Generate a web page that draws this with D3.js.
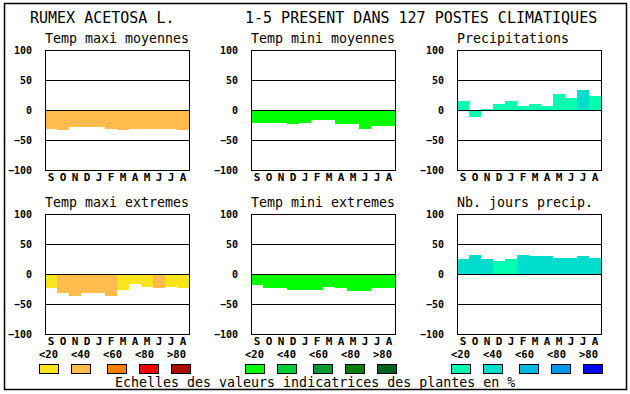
<!DOCTYPE html>
<html>
<head>
<meta charset="utf-8">
<script src="https://cdn.jsdelivr.net/npm/d3@7"></script>
<style>
  body { margin: 0; background: #fff; }
  svg { display: block; }
  text { font-family: "DejaVu Sans Mono", monospace; fill: #000; }
</style>
</head>
<body>
<svg id="chart"></svg>
<script>
"use strict";

// data
const months = ["S", "O", "N", "D", "J", "F", "M", "A", "M", "J", "J", "A"];
const yTicks = [100, 50, 0, -50, -100];
const classLabels = ["<20", "<40", "<60", "<80", ">80"];

const titles = [
  "Temp maxi moyennes", "Temp mini moyennes", "Precipitations",
  "Temp maxi extremes", "Temp mini extremes", "Nb. jours precip."
];

const maxiMoy = [-31, -34, -28, -28, -28, -31, -34, -31, -31, -31, -31, -33];
const miniMoy = [-22, -22, -22, -24, -21, -17, -17, -24, -24, -31, -27, -26];
const precip = [15, -12, 2, 10, 15, 7, 10, 7, 27, 20, 34, 24];
const maxiExt = [-24, -31, -36, -31, -31, -36, -26, -17, -21, -24, -21, -23];
const miniExt = [-18, -24, -23, -26, -26, -26, -21, -23, -28, -28, -23, -24];
const joursPrecip = [25, 31, 25, 21, 25, 31, 30, 30, 26, 26, 30, 26];

// colour class (index into palette) of each bar
const maxiMoyClass = [1, 1, 1, 1, 1, 1, 1, 1, 1, 1, 1, 1];
const miniMoyClass = [0, 0, 0, 0, 0, 0, 0, 0, 0, 0, 0, 0];
const precipClass = [0, 0, 0, 0, 0, 0, 0, 0, 0, 0, 1, 0];
const maxiExtClass = [0, 1, 1, 1, 1, 1, 0, 0, 0, 1, 0, 0];
const miniExtClass = [0, 0, 0, 0, 0, 0, 0, 0, 0, 0, 0, 0];
const joursClass = [1, 1, 1, 0, 0, 1, 1, 1, 1, 1, 1, 1];

const palettes = [
  ["#fae51c", "#ffbb4c", "#ff7f00", "#ee0000", "#aa0c00"],
  ["#00ff00", "#00cc33", "#009933", "#007f00", "#006020"],
  ["#00ffb0", "#00ddcc", "#00bbdd", "#0099ee", "#0000ff"]
];

const series = [
  { values: maxiMoy, cls: maxiMoyClass, col: 0, row: 0 },
  { values: miniMoy, cls: miniMoyClass, col: 1, row: 0 },
  { values: precip, cls: precipClass, col: 2, row: 0 },
  { values: maxiExt, cls: maxiExtClass, col: 0, row: 1 },
  { values: miniExt, cls: miniExtClass, col: 1, row: 1 },
  { values: joursPrecip, cls: joursClass, col: 2, row: 1 }
];

const width = 630;
const height = 394;
const colLeft = [45, 251, 457];
const rowTop = [50, 214];
const plotW = 144;
const plotH = 120;

const svg = d3.select("#chart")
  .attr("width", width)
  .attr("height", height)
  .attr("viewBox", [0, 0, width, height]);

// outer frame
svg.append("rect")
  .attr("x", 4.5).attr("y", 3.5)
  .attr("width", 622).attr("height", 386)
  .attr("fill", "none").attr("stroke", "#000").attr("stroke-width", 1.5);

svg.append("text").attr("x", 30).attr("y", 23)
  .style("font-size", "15px").text("RUMEX ACETOSA L.");
svg.append("text").attr("x", 245).attr("y", 23)
  .style("font-size", "15px").text("1-5 PRESENT DANS 127 POSTES CLIMATIQUES");

const x = d3.scaleBand()
  .domain(d3.range(months.length))
  .range([0, plotW]);

series.forEach((s, k) => {
  const left = colLeft[s.col];
  const top = rowTop[s.row];
  const y = d3.scaleLinear().domain([-100, 100]).range([plotH, 0]);
  const pal = palettes[s.col];

  const g = svg.append("g").attr("transform", `translate(${left},${top})`);

  svg.append("text")
    .attr("x", left).attr("y", top - 7)
    .style("font-size", "13.3px")
    .text(titles[k]);

  // bars
  g.selectAll("rect.bar")
    .data(s.values)
    .join("rect")
    .attr("class", "bar")
    .attr("x", (d, i) => x(i))
    .attr("y", (d) => Math.min(y(d), y(0)))
    .attr("width", x.bandwidth())
    .attr("height", (d) => Math.abs(y(d) - y(0)))
    .attr("fill", (d, i) => pal[s.cls[i]])
    .attr("shape-rendering", "crispEdges");

  // grid lines
  g.selectAll("line.grid")
    .data([50, 0, -50])
    .join("line")
    .attr("class", "grid")
    .attr("x1", 0).attr("x2", plotW)
    .attr("y1", (d) => y(d) + 0.5).attr("y2", (d) => y(d) + 0.5)
    .attr("stroke", "#000")
    .attr("shape-rendering", "crispEdges");

  g.append("rect")
    .attr("x", 0.5).attr("y", 0.5)
    .attr("width", plotW).attr("height", plotH)
    .attr("fill", "none").attr("stroke", "#000")
    .attr("shape-rendering", "crispEdges");

  // Y axis
  const yAxis = g.append("g")
    .call(d3.axisLeft(y).tickValues(yTicks).tickSize(0).tickPadding(13));
  yAxis.select(".domain").remove();
  yAxis.selectAll("text")
    .style("font-family", "'DejaVu Sans Mono', monospace")
    .style("font-size", "10px").style("font-weight", "bold");

  // X axis
  const xAxis = g.append("g")
    .attr("transform", `translate(0,${plotH})`)
    .call(d3.axisBottom(x).tickFormat((i) => months[i]).tickSize(0).tickPadding(3));
  xAxis.select(".domain").remove();
  xAxis.selectAll("text")
    .style("font-family", "'DejaVu Sans Mono', monospace")
    .style("font-size", "11px").style("font-weight", "bold");
});

// legend per column
const boxOffset = [-6, 26, 62, 94, 126];
const labelOffset = [-6, 26, 58, 90, 122];

palettes.forEach((pal, c) => {
  const left = colLeft[c];
  const lg = svg.append("g");
  lg.selectAll("text")
    .data(classLabels)
    .join("text")
    .attr("x", (d, i) => left + labelOffset[i])
    .attr("y", 358)
    .style("font-size", "10.5px").style("font-weight", "bold")
    .text((d) => d);
  lg.selectAll("rect")
    .data(pal)
    .join("rect")
    .attr("x", (d, i) => left + boxOffset[i] + 0.5)
    .attr("y", 364.5)
    .attr("width", 19).attr("height", 9)
    .attr("fill", (d) => d)
    .attr("stroke", "#000")
    .attr("shape-rendering", "crispEdges");
});

svg.append("text").attr("x", 115).attr("y", 387)
  .style("font-size", "13.3px")
  .text("Echelles des valeurs indicatrices des plantes en %");
</script>
</body>
</html>
